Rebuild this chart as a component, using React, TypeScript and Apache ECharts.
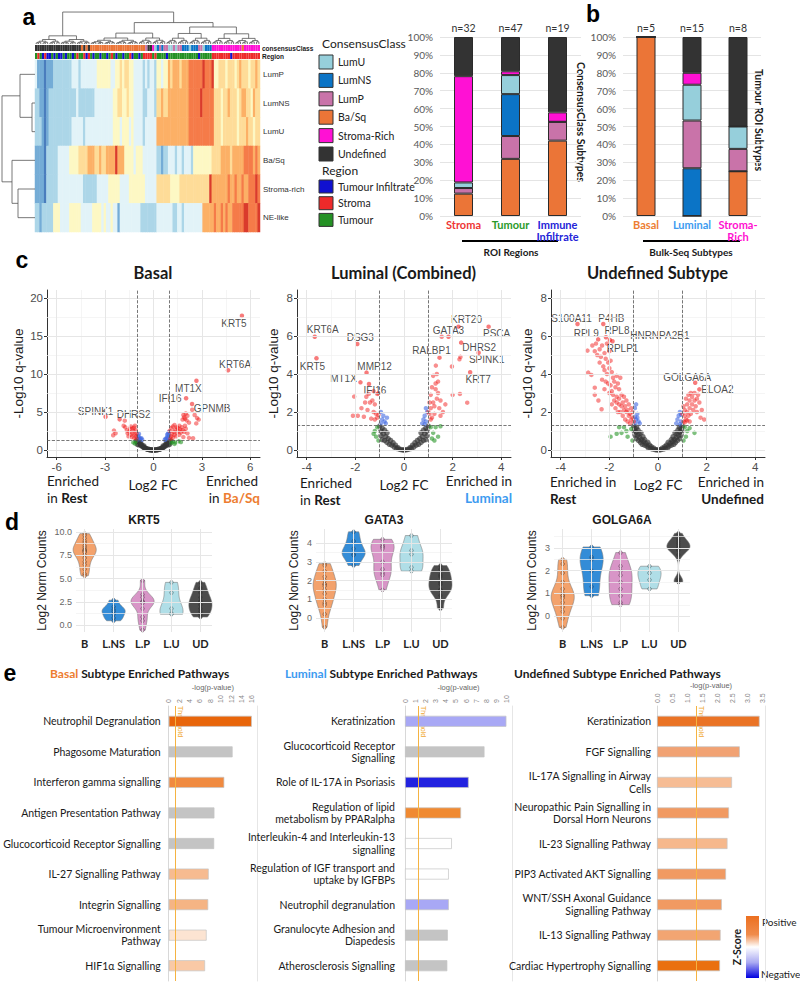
import React, { useEffect, useRef } from "react";
import * as echarts from "echarts";

const FR = "'Liberation Sans', Arial, sans-serif";
const FC = "Lato, 'Open Sans', sans-serif";
const FN = "'Liberation Sans Narrow', 'Arial Narrow', Lato, sans-serif";

/* ====================== DATA ====================== */
// ---- Panel a: heatmap (colour level 0 = low ... 8 = high), 98 ROIs
const heatRowNames = ["LumP", "LumNS", "LumU", "Ba/Sq", "Stroma-rich", "NE-like"];
const heatLumP = [3, 1,1,1, 0, 1,1,1, 2,2,2,2,2,2,2,2, 3,3,3,2,3,3,3,3,3,3,3, 4,4,4,4,4,4, 3,3, 4,4, 5,4,5,5,4,4, 3,3,3,3, 2,3,2,3,3,2, 4,4,3,4,4, 6,5,6,6,6,5,6,6,6, 7,7,7,7,7,7,8,7,7,7,8, 4,4,5, 5,5,4,5,5,5,4,5,6,5,5,5,4,5,5,6,5];
const heatLumNS = [2,2, 1,1, 0, 1, 2,2,2,2,2,2,2,2,2,2, 2,2,3,2,2,2,2,2,2,2,3, 3,3,3,3,3,3,3, 4,4,5,5,4,4,5,4,4, 3,3,3,3,2,2,3,3,3,2, 5,5,6,5,5,6, 6,6,6,6,6,6,6,6, 7,7,7,7,7,8,7,7,7,7,7, 5,5,5,4,5, 5,6,5,5,5,4,5,6,6,5,5,4,6,5,5];
const heatLumU = [2,2,2, 1,0,1, 2,2,2,2,2,2,2,2,2,2, 3,3,3,3,3,2,3,3,3,3,3, 3,3,3,3,3,3,3, 4,4,4,3,4,4,4, 3,4,3,3,3,3,2,3,3,3,3,3, 6,6,6,6,6,6, 6,6,6,6,6,6,6,6, 7,7,7,7,7,7,7,7,7,7,7, 5,5,5,4,5, 5,5,5,5,5,4,5,5,5,6,5,5,4,5,5];
const heatBaSq = [1,1,1,1, 0, 2,2,2,2,2, 3,3,3,3,3, 4,4,4,4, 5,5,5,5, 6,6,6, 5,5,6,5,5, 6,6,6,6, 8, 6,6,6, 4,4,4,4,3,4,4,4, 3,3,3,3,3,3, 2,2,1,2,2, 3,3,3, 2,3,3,2,3,3,3,2, 4,4,4,4,4,4,4,4, 5,5,5,5, 6,6,6,6,5,6,6,6,6,6, 7,7,7,7, 6,7,6];
const heatStromaRich = [1,1,1,1, 0, 2,2,2,2,2, 3,3,3,3,3,3,3,3,3,3,3, 2,2,2,2,2,2, 3,3,3,3,3, 4,4,4,4,4, 3,3,3,3, 4,4,4,4,4,4,4, 3,3,3,3,3, 5,5,5,5,5,5, 4,4,4,4, 5,5,5,5, 5,5,5,5,5,5,5,5,5, 8, 6,6,6,6,6,6, 6,7,6,6,7,6,6,7,6,6, 7,7,7, 8, 7];
const heatNElike = [2,2, 1, 2,2,2,2,2, 4,4,4, 3,3,3,3, 4,4,4,4,4, 3,3,3,3,3, 4,4,4,4, 3,4,3,3,4,3,3, 1, 3,3,3,3,3,3,3,3,3, 2,2,2,2,2,2,2, 3,3,3,3,3,3, 3,2,2,3,3,2,3,3, 3,3,3,3,3,3, 6,6,6,6, 6,7,6,6,7,6,7,6,6,7, 7,7,7,7, 8,8,7, 7,7,7, 8];
const heatValues = [heatLumP, heatLumNS, heatLumU, heatBaSq, heatStromaRich, heatNElike];
// column annotations (U LumU, N LumNS, P LumP, B Ba/Sq, S Stroma-Rich, D Undefined)
const colClass = "DDDDDDDDDDDDDDDDDDDDBDBDBBBBBBBBBBBBBBBBBBBBBBBBPDDSUNPNPPUUPUPPNNNUNNNPPUNNNSSSSSSSSSSSSSBSSSSSSS".split("");
// region (I Tumour Infiltrate, R Stroma, T Tumour)
const colRegion = "TRTIRIITITIITITTITRTTRIRTITTITTITRTITTITTRITTITRRRRTRTTTTITTTTTTTTTTTTTITTTTTRRRRRRRRIRRRRRRRRRRRR".split("");
const classNames = ["LumU", "LumNS", "LumP", "Ba/Sq", "Stroma-Rich", "Undefined"];
const classCodes = ["U", "N", "P", "B", "S", "D"];
const regionNames = ["Tumour Infiltrate", "Stroma", "Tumour"];
const regionCodes = ["I", "R", "T"];
// dendrograms: [height, left, right]
const rowTree: any = [33, [15, 0, [3, 1, 2]], [23, 3, [17, 4, 5]]];
const colTree: any = [0.94, [0.24, [0, 10], [11, 23]], [0.63, [0.32, [24, 44], [45, 56]], [0.5, [0.31, [57, 66], [67, 76]], [0.3, [77, 86], [87, 97]]]]];

// ---- Panel a / b: stacked bars (counts)
const roiRegions = ["Stroma", "Tumour", "Immune\nInfiltrate"];
const roiN = [32, 47, 19];
const roiCounts: any = { B: [4, 15, 8], P: [1, 6, 2], N: [0, 11, 0], U: [1, 5, 0], S: [19, 1, 1], D: [7, 9, 8] };
const bulkSubtypes = ["Basal", "Luminal", "Stroma-\nRich"];
const bulkN = [5, 15, 8];
const bulkCounts: any = { B: [5, 0, 2], N: [0, 4, 0], P: [0, 4, 1], U: [0, 3, 1], S: [0, 1, 0], D: [0, 3, 4] };

// ---- Panel c: volcano plots [log2FC, -log10 q]
const fcCut = 1;
const qCut = 1.3;
const basalGray = [[-1.05,1.2],[-1.0,1.05],[-0.95,0.9],[-1.0,0.75],[-0.9,1.1],[-0.9,0.7],[-0.85,0.85],[-0.8,0.6],[-0.75,0.7],[-0.7,0.5],[-0.65,0.42],[-0.6,0.35],[-0.55,0.28],[-0.5,0.22],[-0.45,0.17],[-0.4,0.13],[-0.35,0.1],[-0.3,0.07],[-0.25,0.05],[-0.2,0.03],[-0.15,0.02],[-0.1,0.01],[-0.05,0],[0,0],[0.05,0],[0.1,0.01],[0.15,0.02],[0.2,0.03],[0.25,0.05],[0.3,0.07],[0.35,0.1],[0.4,0.13],[0.45,0.17],[0.5,0.22],[0.55,0.28],[0.6,0.35],[0.65,0.42],[0.7,0.5],[0.75,0.7],[0.8,0.6],[0.85,0.85],[0.9,0.7],[0.9,1.1],[0.95,0.9],[1.0,0.75],[1.0,1.05],[1.05,1.2],[-0.8,0.95],[0.8,0.95],[-0.6,0.55],[0.6,0.55]];
const basalBlue = [[-0.95,1.4],[-0.9,1.6],[-0.85,1.45],[-0.95,1.85],[-0.8,1.5],[-0.9,2.1],[-0.7,1.35],[-0.75,1.55],[0.7,1.35],[0.75,1.5],[0.8,1.45],[0.85,1.7],[0.9,1.55],[0.95,1.9],[0.9,2.15],[0.95,2.35],[0.85,2.0]];
const basalGreen = [[-1.25,1.0],[-1.15,0.85],[-1.1,1.15],[1.1,0.95],[1.2,1.1],[1.35,1.0],[1.55,1.15],[1.7,1.05],[1.3,0.8]];
const basalRed = [[-1.05,1.5],[-1.1,1.8],[-1.15,2.05],[-1.2,1.6],[-1.3,2.2],[-1.25,2.55],[-1.4,2.0],[-1.35,1.7],[-1.5,2.4],[-1.45,2.8],[-1.1,2.6],[-1.2,2.95],[-1.6,2.2],[-1.55,1.8],[-1.3,2.85],[-1.05,2.2],[-1.65,2.6],[-1.4,3.1],[-1.15,3.2],[-1.75,3.0],[-1.85,3.2],[-1.78,3.86],[-2.35,2.2],[-2.45,2.55],[-2.5,1.95],
  [1.05,1.5],[1.1,1.8],[1.15,2.1],[1.2,1.6],[1.25,2.4],[1.3,2.0],[1.35,2.7],[1.4,1.8],[1.45,2.3],[1.5,2.9],[1.55,2.5],[1.6,2.0],[1.65,2.7],[1.7,2.3],[1.75,3.0],[1.8,2.6],[1.1,2.9],[1.2,3.1],[1.9,2.4],[2.0,2.8],[1.85,1.7],[2.1,2.2],[1.95,3.2],[1.3,3.3],[1.45,3.0],[1.6,3.2],[2.2,1.6],[1.0,2.5],
  [1.8,4.0],[1.85,4.6],[1.9,4.3],[2.0,4.8],[2.05,3.9],[2.1,4.5],[2.2,3.6],[2.55,4.6],[2.7,4.2],[2.65,3.5],[2.8,4.0],[2.45,1.55],[2.4,5.3],[1.95,4.1]];
const basalGenes: any[] = [["KRT5",5.48,17.67],["KRT6A",4.62,10.5],["MT1X",2.66,9.12],["IFI16",2.02,6.8],["GPNMB",2.39,6.05],["SPINK1",-2.97,4.38],["DHRS2",-2.1,4.03]];

const lumGray = [[-1.0,1.25],[-0.95,1.0],[-0.95,0.75],[-0.9,1.15],[-0.9,0.55],[-0.85,0.85],[-0.8,1.05],[-0.8,0.5],[-0.75,0.7],[-0.7,0.9],[-0.7,0.4],[-0.65,0.6],[-0.6,0.3],[-0.55,0.5],[-0.5,0.25],[-0.45,0.38],[-0.4,0.15],[-0.35,0.25],[-0.3,0.08],[-0.25,0.12],[-0.2,0.04],[-0.12,0.02],[-0.05,0],[0,0],[0.05,0],[0.12,0.02],[0.2,0.04],[0.25,0.12],[0.3,0.08],[0.35,0.25],[0.4,0.15],[0.45,0.38],[0.5,0.25],[0.55,0.5],[0.6,0.3],[0.65,0.6],[0.7,0.4],[0.7,0.9],[0.75,0.7],[0.8,0.5],[0.8,1.05],[0.85,0.85],[0.9,0.55],[0.9,1.15],[0.95,0.75],[0.95,1.0],[1.0,1.25]];
const lumBlue = [[-0.95,1.4],[-0.9,1.6],[-0.85,1.8],[-0.8,1.5],[-0.95,2.0],[-0.75,1.4],[-0.7,1.7],[0.75,1.4],[0.8,1.6],[0.85,1.8],[0.9,1.5],[0.95,2.0],[0.9,2.2],[0.85,1.35]];
const lumGreen = [[-1.1,1.2],[-1.2,1.0],[-1.15,0.7],[-1.05,0.5],[-1.25,0.85],[1.1,1.2],[1.3,1.2],[1.5,1.25],[1.2,0.9],[1.15,0.6],[1.4,0.7],[1.25,0.5]];
const lumRed = [[1.55,5.96],[1.97,4.39],[2.28,4.77],[2.32,4.9],[1.31,4.44],[2.0,2.9],[2.3,2.95],[2.6,2.49],[1.05,1.9],[1.1,2.2],[1.15,1.7],[1.2,2.5],[1.25,1.9],[1.3,3.2],[1.35,2.7],[1.1,2.9],[1.4,3.6],[1.3,3.5],[1.45,2.2],[1.5,1.8],[1.2,3.9],[1.05,2.5],[1.6,2.0],[1.25,2.3],[1.4,3.0],[1.15,3.3],[1.35,4.0],[1.1,1.6],[1.0,2.0],[1.5,2.6],[1.7,2.4],
  [-2.05,2.81],[-2.1,1.8],[-1.9,1.8],[-1.65,1.75],[-1.5,2.1],[-1.4,2.5],[-1.3,2.6],[-1.2,2.4],[-1.6,2.5],[-1.75,2.2],[-1.1,1.7],[-1.15,1.9],[-1.05,1.85],[-1.2,1.6],[-1.35,1.65],[-1.25,2.0],[-1.55,2.8],[-1.45,2.95],[-1.1,2.95],[-1.25,3.1],[-1.06,2.98]];
const lumGenes: any[] = [["KRT6A",-3.67,5.96],["KRT5",-3.6,4.83],["DSG3",-1.92,5.58],["MMP12",-1.54,4.07],["MT1X",-1.79,3.56],["IFI16",-1.44,3.47],["KRT20",2.24,6.49],["GATA3",1.83,5.96],["PSCA",3.48,6.49],["DHRS2",2.35,5.65],["RALBP1",1.46,4.86],["SPINK1",3.07,5.12],["KRT7",2.72,4.09]];

const undGray = [[-1.0,1.25],[-0.98,1.0],[-0.95,0.8],[-0.95,1.15],[-0.9,0.6],[-0.9,0.95],[-0.88,1.2],[-0.85,0.75],[-0.82,1.05],[-0.8,0.5],[-0.78,0.85],[-0.75,0.65],[-0.72,0.4],[-0.7,0.9],[-0.68,0.55],[-0.65,0.3],[-0.62,0.7],[-0.6,0.45],[-0.55,0.25],[-0.55,0.55],[-0.5,0.35],[-0.45,0.2],[-0.42,0.4],[-0.4,0.12],[-0.35,0.25],[-0.3,0.08],[-0.28,0.18],[-0.22,0.05],[-0.18,0.1],[-0.12,0.02],[-0.06,0.01],[0,0],[0.06,0.01],[0.12,0.02],[0.18,0.1],[0.22,0.05],[0.28,0.18],[0.3,0.08],[0.35,0.25],[0.4,0.12],[0.42,0.4],[0.45,0.2],[0.5,0.35],[0.55,0.55],[0.55,0.25],[0.6,0.45],[0.62,0.7],[0.65,0.3],[0.68,0.55],[0.7,0.9],[0.72,0.4],[0.75,0.65],[0.78,0.85],[0.8,0.5],[0.82,1.05],[0.85,0.75],[0.88,1.2],[0.9,0.95],[0.9,0.6],[0.95,1.15],[0.95,0.8],[0.98,1.0],[1.0,1.25]];
const undBlue = [[-0.95,1.4],[-0.9,1.6],[-0.85,1.9],[-0.95,2.2],[-0.8,1.5],[-0.9,2.4],[-0.75,1.4],[-0.85,1.7],[-0.95,1.75],[0.75,1.4],[0.8,1.6],[0.85,1.8],[0.9,2.0],[0.95,1.5],[0.9,1.35],[0.95,1.85]];
const undGreen = [[-1.1,1.1],[-1.3,1.0],[-1.5,0.9],[-1.7,0.85],[-1.95,0.7],[-1.25,0.7],[-1.05,0.5],[-1.6,1.2],[-1.4,1.2],[1.1,1.2],[1.2,1.0],[1.3,1.15],[1.5,0.9],[1.15,0.7],[1.05,0.5]];
const undRed = [[-2.7,5.5],[-2.6,5.2],[-2.5,5.0],[-2.55,5.6],[-2.4,5.3],[-2.35,4.9],[-2.3,5.5],[-2.2,5.1],[-2.1,5.6],[-2.15,4.8],[-2.0,5.2],[-2.05,4.6],[-2.25,4.4],[-1.95,4.7],[-2.4,4.6],
  [-2.2,4.2],[-2.1,4.0],[-2.0,4.3],[-1.9,4.1],[-1.85,3.8],[-2.3,3.7],[-2.15,3.6],[-2.05,3.5],[-1.95,3.4],[-1.8,3.6],[-1.75,3.3],[-1.7,3.9],[-1.65,3.5],[-1.9,3.1],[-2.0,3.0],[-1.6,3.2],[-1.55,3.8],[-1.85,2.9],[-1.7,2.8],[-2.2,3.2],
  [-1.6,2.7],[-1.5,2.9],[-1.45,2.5],[-1.4,2.8],[-1.35,2.3],[-1.3,2.6],[-1.25,2.1],[-1.2,2.4],[-1.15,1.9],[-1.1,2.2],[-1.05,1.7],[-1.0,1.5],[-1.05,2.0],[-1.1,1.6],[-1.2,1.8],[-1.3,2.0],[-1.4,2.1],[-1.5,2.3],[-1.6,2.4],[-1.7,2.5],[-1.75,2.2],[-1.55,2.0],[-1.45,1.8],[-1.35,1.6],[-1.25,1.5],[-1.15,1.4],[-1.65,2.0],[-1.8,2.6],[-1.9,2.4],
  [-2.9,5.23],[-2.87,4.07],[-2.74,3.95],[-2.6,3.28],[-2.32,2.14],[-2.45,2.6],[-2.6,2.9],
  [1.05,1.5],[1.1,1.8],[1.1,2.1],[1.15,1.6],[1.2,2.0],[1.2,2.4],[1.25,1.8],[1.3,2.2],[1.3,2.6],[1.35,1.9],[1.4,2.4],[1.4,2.8],[1.45,2.1],[1.5,2.6],[1.5,3.0],[1.55,2.3],[1.6,2.7],[1.6,2.0],[1.65,2.9],[1.7,2.5],[1.75,1.7],[1.8,2.1],[1.05,2.3],[1.15,2.7],[1.25,2.9],[1.35,3.0],[1.0,1.9],[1.1,1.45],[1.2,1.55],[1.3,1.5],[1.9,1.6]];
const undGenes: any[] = [["S100A11",-3.31,6.63],["P4HB",-2.25,6.63],["RPL9",-2.46,5.82],["RPL8",-2.14,5.93],["HNRNPA2B1",-1.98,5.79],["RPLP1",-1.87,5.72],["GOLGA6A",1.53,3.54],["ELOA2",1.7,3.19]];

// ---- Panel d: violins (log2 normalised counts per ROI)
const violinGroups = ["B", "L.NS", "L.P", "L.U", "UD"];
const krt5B = [9.8,9.6,9.3,9.0,8.8,8.5,8.3,8.1,8.0,8.0,7.9,7.8,7.5,7.2,6.8,6.5,6.0,5.5,5.3];
const krt5LNS = [2.7,2.0,1.7,1.5,1.2,0.8,0.5];
const krt5LP = [4.8,3.3,3.0,2.6,2.5,2.5,2.4,1.8,0.9,0.5,-0.5];
const krt5LU = [4.6,3.5,1.8,1.3,1.2];
const krt5UD = [4.6,4.0,3.5,3.0,2.6,2.5,2.2,1.8,1.5,1.2,0.9];
const gata3B = [2.9,2.8,2.5,2.2,2.0,1.8,1.8,1.7,1.5,1.3,1.0,0.8,0.7,0.2,-0.5];
const gata3LNS = [4.6,4.1,3.7,3.4,3.35,2.8];
const gata3LP = [4.2,3.9,3.8,3.8,3.7,3.0,2.6,2.4,2.3,1.5];
const gata3LU = [4.4,3.6,3.4,2.7,2.5];
const gata3UD = [2.8,2.6,2.3,2.2,1.9,1.8,1.5,1.5,1.2,0.5];
const golgaB = [2.5,2.3,1.9,1.5,1.2,1.0,0.9,0.9,0.8,0.6,0.4,0.2,-0.1,-0.5];
const golgaLNS = [3.05,2.6,2.5,2.0,1.3,0.9];
const golgaLP = [2.8,2.2,2.0,1.8,1.5,1.2,0.9,0.6,0.5];
const golgaLU = [2.2,1.9,1.6,1.2];
const golgaUD = [3.65,3.4,3.3,3.2,3.1,3.0,3.0,2.9,2.7,1.6,1.5];

// ---- Panel e: pathway enrichment (-log p)
const basalPathways = ["Neutrophil Degranulation", "Phagosome Maturation", "Interferon gamma signalling", "Antigen Presentation Pathway", "Glucocorticoid Receptor Signalling", "IL-27 Signalling Pathway", "Integrin Signalling", "Tumour Microenvironment\nPathway", "HIF1α Signalling"];
const basalLogP = [16.0, 12.3, 10.7, 8.8, 8.75, 7.7, 7.6, 7.3, 7.0];
const lumPathways = ["Keratinization", "Glucocorticoid Receptor\nSignalling", "Role of IL-17A in Psoriasis", "Regulation of lipid\nmetabolism by PPARalpha", "Interleukin-4 and Interleukin-13\nsignalling", "Regulation of IGF transport and\nuptake by IGFBPs", "Neutrophil degranulation", "Granulocyte Adhesion and\nDiapedesis", "Atherosclerosis Signalling"];
const lumLogP = [9.95, 7.8, 6.25, 5.5, 4.6, 4.3, 4.3, 4.2, 4.15];
const undPathways = ["Keratinization", "FGF Signalling", "IL-17A Signalling in Airway\nCells", "Neuropathic Pain Signalling in\nDorsal Horn Neurons", "IL-23 Signalling Pathway", "PIP3 Activated AKT Signalling", "WNT/SSH Axonal Guidance\nSignalling Pathway", "IL-13 Signalling Pathway", "Cardiac Hypertrophy Signalling"];
const undLogP = [3.42, 2.76, 2.5, 2.4, 2.35, 2.3, 2.16, 2.12, 2.1];
const pThreshold = 1.3;

/* ====================== STYLES ====================== */
const heatPalette = ["#4a7dbd", "#74acd6", "#acd6e8", "#e2f3f8", "#fdf8c4", "#fedc98", "#fcb066", "#f57b49", "#da3b2c"];
const classColors = ["#96cfdb", "#0b74c6", "#c973a9", "#eb7537", "#ff11d4", "#333333"];
const regionColors = ["#1010d0", "#ee2a2a", "#249124"];
const roiLabelColors = ["#ee3535", "#2a9a2a", "#2424d8"];
const bulkLabelColors = ["#ed7d31", "#3d9bf0", "#ff10d0"];
const violinColors = ["#f29a5f", "#2282d4", "#d58cc2", "#a9dbe5", "#3d3d3d"];
const basalBarColors = ["#e8650a", "#c4c4c4", "#f08a40", "#c4c4c4", "#c4c4c4", "#f7bb90", "#f5b484", "#fce4d2", "#f9c9a6"];
const lumBarColors = ["#a8a8f5", "#c4c4c4", "#2222e0", "#f08a32", "#ffffff", "#ffffff", "#a8a8f5", "#c4c4c4", "#c4c4c4"];
const undBarColors = ["#ea7325", "#f1a273", "#f6bc94", "#f19a62", "#f6b88c", "#f19a62", "#f19a62", "#f2a572", "#ea7010"];
const geneOffsets: any = {
  "b:KRT5": [-8, 8], "b:KRT6A": [7, -6], "b:MT1X": [-8, 8], "b:IFI16": [-16, 0], "b:GPNMB": [20, 4], "b:SPINK1": [-10, -5], "b:DHRS2": [14, -5],
  "l:KRT6A": [8, -7], "l:KRT5": [-4, 8], "l:DSG3": [3, -6], "l:MMP12": [8, -6], "l:MT1X": [-17, -4], "l:IFI16": [6, 6], "l:KRT20": [8, -7], "l:GATA3": [0, -6], "l:PSCA": [8, 7], "l:DHRS2": [18, 5], "l:RALBP1": [-8, -7], "l:SPINK1": [8, 7], "l:KRT7": [8, 7],
  "u:S100A11": [-6, -6], "u:P4HB": [8, -6], "u:RPL9": [-12, -6], "u:RPL8": [11, -7], "u:HNRNPA2B1": [50, -4], "u:RPLP1": [10, 7], "u:GOLGA6A": [-8, -5], "u:ELOA2": [18, 0],
};

/* ====================== HELPERS ====================== */
function colDendroLinks(tree: any) {
  const links: number[][] = [];
  const range = (a: number, b: number, h: number): number[] => {
    if (a === b) return [a + 0.5, 0];
    const m = Math.floor((a + b) / 2);
    const L = range(a, m, h * 0.62), R = range(m + 1, b, h * 0.62);
    links.push([L[0], L[1], R[0], R[1], h]);
    return [(L[0] + R[0]) / 2, h];
  };
  const walk = (node: any, parentH: number): number[] => {
    if (node.length === 2) return range(node[0], node[1], parentH * 0.55);
    const [h, l, r] = node;
    const L = walk(l, h), R = walk(r, h);
    links.push([L[0], L[1], R[0], R[1], h]);
    return [(L[0] + R[0]) / 2, h];
  };
  walk(tree, 1);
  return links;
}
function rowDendroLinks(tree: any) {
  const links: number[][] = [];
  const walk = (n: any): number[] => {
    if (typeof n === "number") return [n + 0.5, 0];
    const [h, l, r] = n;
    const L = walk(l), R = walk(r);
    links.push([L[0], L[1], R[0], R[1], h]);
    return [(L[0] + R[0]) / 2, h];
  };
  walk(tree);
  return links;
}
function violinPolygon(vals: number[], cx: number, halfMax: number) {
  const s = [...vals].sort((a, b) => a - b);
  const n = s.length;
  const mean = s.reduce((a, b) => a + b, 0) / n;
  const sd = Math.sqrt(s.reduce((a, b) => a + (b - mean) ** 2, 0) / Math.max(1, n - 1));
  const q = (p: number) => { const i = (n - 1) * p; const lo = Math.floor(i); const hi = Math.ceil(i); return s[lo] + (s[hi] - s[lo]) * (i - lo); };
  const iqr = q(0.75) - q(0.25);
  let lo = Math.min(sd, iqr / 1.34);
  if (!(lo > 0)) lo = sd || 0.5;
  const bw = 0.9 * lo * Math.pow(n, -0.2);
  const steps = 50;
  const ys: number[] = [], ds: number[] = [];
  for (let i = 0; i <= steps; i++) {
    const y = s[0] + ((s[n - 1] - s[0]) * i) / steps;
    let d = 0;
    s.forEach((v) => { d += Math.exp(-0.5 * ((y - v) / bw) ** 2); });
    ys.push(y); ds.push(d);
  }
  const mx = Math.max(...ds);
  const right = ys.map((y, i) => [cx + (ds[i] / mx) * halfMax, y]);
  const left = ys.map((y, i) => [cx - (ds[i] / mx) * halfMax, y]).reverse();
  return right.concat(left);
}

function buildOption() {
  const grid: any[] = [], xAxis: any[] = [], yAxis: any[] = [], series: any[] = [], graphic: any[] = [];
  const addGrid = (g: any, xa: any, ya: any) => {
    grid.push(g);
    const gi = grid.length - 1;
    xAxis.push({ gridIndex: gi, ...xa });
    yAxis.push({ gridIndex: gi, ...ya });
    return { gi, xi: xAxis.length - 1, yi: yAxis.length - 1 };
  };
  const text = (x: number, y: number, t: string, st: any = {}, extra: any = {}) => {
    graphic.push({ type: "text", x, y, silent: true, ...extra, style: { text: t, fill: "#1a1a1a", fontFamily: FC, fontSize: 12, align: "left", verticalAlign: "middle", ...st } });
  };
  const nCols = colClass.length;
  const colCats = colClass.map((_, i) => String(i));

  /* ---------- Panel a heatmap ---------- */
  const hm = addGrid({ left: 35, top: 60, width: 225, height: 172 },
    { type: "category", data: colCats, show: false },
    { type: "category", data: heatRowNames, inverse: true, position: "right", axisLine: { show: false }, axisTick: { show: false },
      axisLabel: { fontSize: 8, color: "#333", margin: 3, fontFamily: FR } });
  const heatData: number[][] = [];
  heatValues.forEach((row, r) => row.forEach((v, c) => heatData.push([c, r, v])));
  const heatSeriesIndex = series.length;
  series.push({ type: "heatmap", xAxisIndex: hm.xi, yAxisIndex: hm.yi, data: heatData, silent: true, itemStyle: { borderWidth: 0 } });

  const annot = (top: number, codes: string[], codeList: string[], colors: string[]) => {
    const ids = addGrid({ left: 35, top, width: 225, height: 6 },
      { type: "category", data: colCats, show: false },
      { type: "value", min: 0, max: 1, show: false });
    series.push({ type: "bar", xAxisIndex: ids.xi, yAxisIndex: ids.yi, barWidth: "100%", barCategoryGap: "0%", silent: true,
      data: codes.map((c) => ({ value: 1, itemStyle: { color: colors[codeList.indexOf(c)] } })) });
  };
  annot(45, colClass, classCodes, classColors);
  annot(53, colRegion, regionCodes, regionColors);
  text(262, 48.5, "consensusClass", { fontSize: 6.5, fontWeight: "bold", fontFamily: FR });
  text(262, 56.5, "Region", { fontSize: 6.5, fontWeight: "bold", fontFamily: FR });

  const cd = addGrid({ left: 35, top: 10, width: 225, height: 34 },
    { type: "value", min: 0, max: nCols, show: false }, { type: "value", min: 0, max: 1, show: false });
  series.push({ type: "custom", xAxisIndex: cd.xi, yAxisIndex: cd.yi, silent: true, data: colDendroLinks(colTree),
    renderItem: (_p: any, api: any) => {
      const xa = api.value(0), ya = api.value(1), xb = api.value(2), yb = api.value(3), h = api.value(4);
      return { type: "polyline", shape: { points: [api.coord([xa, ya]), api.coord([xa, h]), api.coord([xb, h]), api.coord([xb, yb])] },
        style: { stroke: "#555", lineWidth: 0.8, fill: null } };
    } });
  const rd = addGrid({ left: 0, top: 60, width: 35, height: 172 },
    { type: "value", min: 0, max: 35, inverse: true, show: false }, { type: "value", min: 0, max: 6, inverse: true, show: false });
  series.push({ type: "custom", xAxisIndex: rd.xi, yAxisIndex: rd.yi, silent: true, data: rowDendroLinks(rowTree),
    renderItem: (_p: any, api: any) => {
      const ya = api.value(0), da = api.value(1), yb = api.value(2), db = api.value(3), h = api.value(4);
      return { type: "polyline", shape: { points: [api.coord([da, ya]), api.coord([h, ya]), api.coord([h, yb]), api.coord([db, yb])] },
        style: { stroke: "#555", lineWidth: 0.8, fill: null } };
    } });

  // legend
  text(322, 43, "ConsensusClass", { fontSize: 12, fill: "#222" });
  classNames.forEach((nm, i) => {
    const y = 55 + i * 18.4;
    graphic.push({ type: "rect", silent: true, shape: { x: 319, y, width: 14, height: 14 }, style: { fill: classColors[i], stroke: "#333", lineWidth: 1 } });
    text(338, y + 7, nm, { fontSize: 10.5, fill: "#222" });
  });
  text(322, 170, "Region", { fontSize: 12, fill: "#222" });
  regionNames.forEach((nm, i) => {
    const y = 180 + i * 16.7;
    graphic.push({ type: "rect", silent: true, shape: { x: 319, y, width: 14, height: 13 }, style: { fill: regionColors[i], stroke: "#333", lineWidth: 1 } });
    text(338, y + 6.5, nm, { fontSize: 10.5, fill: "#222" });
  });

  /* ---------- stacked bars ---------- */
  const stacked = (left: number, width: number, cats: string[], catColors: string[], ns: number[], counts: any, order: string[], stackId: string) => {
    const ids = addGrid({ left, top: 37, width, height: 179 },
      { type: "category", data: cats.map((c, i) => ({ value: c, textStyle: { color: catColors[i] } })), axisLine: { show: false }, axisTick: { show: false },
        axisLabel: { fontSize: 11, fontWeight: "bold", fontFamily: FC, margin: 3, lineHeight: 11.5, interval: 0 } },
      { type: "value", min: 0, max: 100, interval: 10, axisLine: { show: false }, axisTick: { show: false },
        axisLabel: { formatter: "{value}%", fontSize: 10, color: "#595959", margin: 7, fontFamily: FC }, splitLine: { lineStyle: { color: "#e4e4e4", width: 1 } } });
    xAxis.push({ gridIndex: ids.gi, type: "category", position: "top", data: ns.map((n) => "n=" + n), axisLine: { show: false }, axisTick: { show: false },
      axisLabel: { fontSize: 10.5, color: "#333", margin: 4, fontFamily: FC } });
    order.forEach((code) => {
      const ci = classCodes.indexOf(code);
      series.push({ type: "bar", stack: stackId, xAxisIndex: ids.xi, yAxisIndex: ids.yi, barWidth: 19, silent: true,
        data: counts[code].map((c: number, i: number) => (c / ns[i]) * 100),
        itemStyle: { color: classColors[ci], borderColor: "#2b2b2b", borderWidth: 1 } });
    });
  };
  stacked(440, 141, roiRegions, roiLabelColors, roiN, roiCounts, ["B", "P", "N", "U", "S", "D"], "roi");
  stacked(623, 138, bulkSubtypes, bulkLabelColors, bulkN, bulkCounts, ["B", "N", "P", "U", "S", "D"], "bulk");
  text(581, 122, "ConsensusClass Subtypes", { fontSize: 10.5, fontWeight: "bold", align: "center" }, { rotation: -Math.PI / 2 });
  text(759, 120, "Tumour ROI Subtypes", { fontSize: 10.5, fontWeight: "bold", align: "center" }, { rotation: -Math.PI / 2 });
  graphic.push({ type: "line", silent: true, shape: { x1: 462, y1: 241, x2: 558, y2: 241 }, style: { stroke: "#000", lineWidth: 2 } });
  graphic.push({ type: "line", silent: true, shape: { x1: 643, y1: 241, x2: 740, y2: 241 }, style: { stroke: "#000", lineWidth: 2 } });
  text(511, 252, "ROI Regions", { fontSize: 10, fontWeight: "bold", align: "center" });
  text(691, 252, "Bulk-Seq Subtypes", { fontSize: 10, fontWeight: "bold", align: "center" });

  /* ---------- volcano ---------- */
  const gridLineSeries = (ids: any, xs: number[], xm: number[], ys: number[], ym: number[], dashed: any[]) => {
    const major = { color: "#e6e6e6", width: 1, type: "solid" };
    const minor = { color: "#f1f1f1", width: 0.7, type: "solid" };
    series.push({ type: "line", xAxisIndex: ids.xi, yAxisIndex: ids.yi, data: [], silent: true, z: 0,
      markLine: { silent: true, symbol: "none", animation: false, label: { show: false },
        data: [
          ...xm.map((v) => ({ xAxis: v, lineStyle: minor })), ...ym.map((v) => ({ yAxis: v, lineStyle: minor })),
          ...xs.map((v) => ({ xAxis: v, lineStyle: major })), ...ys.map((v) => ({ yAxis: v, lineStyle: major })),
          ...dashed,
        ] } });
  };
  const volcano = (cfg: any) => {
    const axCommon = { splitLine: { show: false }, axisLine: { show: true, onZero: false, lineStyle: { color: "#333", width: 1 } } };
    const ids = addGrid({ left: cfg.left, top: 290, width: cfg.width, height: 167 },
      { type: "value", min: cfg.xMin, max: cfg.xMax, ...axCommon,
        axisTick: { show: true, customValues: cfg.xMajor, length: 3, lineStyle: { color: "#333" } },
        axisLabel: { customValues: cfg.xMajor, fontSize: 11.5, color: "#4d4d4d", margin: 4, fontFamily: FR } },
      { type: "value", min: cfg.yMin, max: cfg.yMax, ...axCommon,
        axisTick: { show: true, customValues: cfg.yMajor, length: 3, lineStyle: { color: "#333" } },
        axisLabel: { customValues: cfg.yMajor, fontSize: 11.5, color: "#4d4d4d", margin: 4, fontFamily: FR },
        name: "-Log10 q-value", nameLocation: "middle", nameGap: cfg.nameGap, nameRotate: 90, nameTextStyle: { fontSize: 13.5, color: "#1a1a1a", fontFamily: FR } });
    const dash = { color: "#555", width: 0.8, type: "dashed" };
    gridLineSeries(ids, cfg.xMajor, cfg.xMinor, cfg.yMajor, cfg.yMinor,
      [{ xAxis: -fcCut, lineStyle: dash }, { xAxis: fcCut, lineStyle: dash }, { yAxis: qCut, lineStyle: dash }]);
    const pts = (data: number[][], color: string, size: number) =>
      series.push({ type: "scatter", xAxisIndex: ids.xi, yAxisIndex: ids.yi, data, symbolSize: size, silent: true, itemStyle: { color } });
    pts(cfg.gray, "rgba(55,55,55,0.85)", 5.5);
    pts(cfg.blue, "rgba(65,105,225,0.75)", 4.5);
    pts(cfg.green, "rgba(40,150,40,0.75)", 4.5);
    pts(cfg.red, "rgba(240,20,20,0.6)", 4.5);
    series.push({ type: "scatter", xAxisIndex: ids.xi, yAxisIndex: ids.yi, symbolSize: 4.5, silent: true, itemStyle: { color: "rgba(240,20,20,0.7)" },
      label: { show: true, position: "inside", formatter: "{b}", fontSize: 10, color: "#1a1a1a", fontFamily: FR },
      data: cfg.genes.map((g: any) => ({ name: g[0], value: [g[1], g[2]], label: { offset: geneOffsets[cfg.key + ":" + g[0]] || [0, -8] } })) });
    text(cfg.left + cfg.width / 2 - 0.5, 273, cfg.title, { fontSize: 16.5, fontWeight: "bold", align: "center" });
    return ids;
  };
  volcano({ key: "b", left: 47, width: 213, xMin: -6.6, xMax: 6.6, yMin: -0.92, yMax: 21.05, xMajor: [-6, -3, 0, 3, 6], xMinor: [-4.5, -1.5, 1.5, 4.5],
    yMajor: [0, 5, 10, 15, 20], yMinor: [2.5, 7.5, 12.5, 17.5], gray: basalGray, blue: basalBlue, green: basalGreen, red: basalRed, genes: basalGenes, title: "Basal", nameGap: 22 });
  volcano({ key: "l", left: 297, width: 214, xMin: -4.4, xMax: 4.4, yMin: -0.37, yMax: 8.42, xMajor: [-4, -2, 0, 2, 4], xMinor: [-3, -1, 1, 3],
    yMajor: [0, 2, 4, 6, 8], yMinor: [1, 3, 5, 7], gray: lumGray, blue: lumBlue, green: lumGreen, red: lumRed, genes: lumGenes, title: "Luminal (Combined)", nameGap: 17 });
  volcano({ key: "u", left: 551, width: 214, xMin: -4.4, xMax: 4.4, yMin: -0.37, yMax: 8.42, xMajor: [-4, -2, 0, 2, 4], xMinor: [-3, -1, 1, 3],
    yMajor: [0, 2, 4, 6, 8], yMinor: [1, 3, 5, 7], gray: undGray, blue: undBlue, green: undGreen, red: undRed, genes: undGenes, title: "Undefined Subtype", nameGap: 17 });
  const bt = { fontSize: 13.5, fontFamily: FC, fill: "#1a1a1a" };
  const rb = (c: string) => ({ fontSize: 13.5, fontFamily: FC, fontWeight: "bold", fill: c });
  text(47, 481, "Enriched", bt); text(47, 498, "in {b|Rest}", { ...bt, rich: { b: rb("#1a1a1a") } });
  text(153, 485, "Log2 FC", { ...bt, align: "center" });
  text(258, 481, "Enriched", { ...bt, align: "right" }); text(260, 498, "in {o|Ba/Sq}", { ...bt, align: "right", rich: { o: rb("#ed7d31") } });
  text(300, 483, "Enriched", bt); text(300, 500, "in {b|Rest}", { ...bt, rich: { b: rb("#1a1a1a") } });
  text(404, 485, "Log2 FC", { ...bt, align: "center" });
  text(512, 481, "Enriched in", { ...bt, align: "right" }); text(512, 498, "{l|Luminal}", { ...bt, align: "right", rich: { l: rb("#3d9bf0") } });
  text(550, 482, "Enriched in", bt); text(550, 499, "{b|Rest}", { ...bt, rich: { b: rb("#1a1a1a") } });
  text(658, 485, "Log2 FC", { ...bt, align: "center" });
  text(764, 482, "Enriched in", { ...bt, align: "right" }); text(764, 499, "{b|Undefined}", { ...bt, align: "right", rich: { b: rb("#1a1a1a") } });

  /* ---------- violins ---------- */
  const violin = (cfg: any) => {
    const ids = addGrid({ left: cfg.left, top: 529, width: 136, height: 103 },
      { type: "value", min: 0.7, max: 5.4, splitLine: { show: false }, axisLine: { show: false }, axisTick: { show: false },
        axisLabel: { customValues: [1, 2, 3, 4, 5], formatter: (v: number) => violinGroups[Math.round(v) - 1], fontSize: 11, fontWeight: "bold", color: "#222", margin: 6, fontFamily: FC } },
      { type: "value", min: cfg.yMin, max: cfg.yMax, splitLine: { show: false }, axisLine: { show: false }, axisTick: { show: false },
        axisLabel: { customValues: cfg.yMajor, formatter: cfg.fmt, fontSize: 9, color: "#666", margin: 4, fontFamily: FR },
        name: "Log2 Norm Counts", nameLocation: "middle", nameGap: cfg.nameGap, nameRotate: 90, nameTextStyle: { fontSize: 12, color: "#222", fontFamily: FR } });
    gridLineSeries(ids, [1, 2, 3, 4, 5], [], cfg.yMajor, cfg.yMinor, []);
    const shapes = cfg.groups.map((vals: number[], i: number) => violinPolygon(vals, i + 1, 0.4));
    series.push({ type: "custom", xAxisIndex: ids.xi, yAxisIndex: ids.yi, silent: true, z: 2, data: cfg.groups.map((_: any, i: number) => [i + 1, 0]),
      renderItem: (p: any, api: any) => ({ type: "polygon", shape: { points: shapes[p.dataIndex].map((pt: number[]) => api.coord(pt)) },
        style: { fill: violinColors[p.dataIndex], stroke: "#777", lineWidth: 0.6, opacity: 0.92 } }) });
    const pdata: number[][] = [];
    cfg.groups.forEach((vals: number[], i: number) => vals.forEach((v) => pdata.push([i + 1, v])));
    series.push({ type: "scatter", xAxisIndex: ids.xi, yAxisIndex: ids.yi, silent: true, z: 3, data: pdata, symbolSize: 3.6,
      itemStyle: { color: (p: any) => violinColors[p.data[0] - 1], borderColor: "rgba(50,50,50,0.85)", borderWidth: 0.6 } });
    text(cfg.left + 68, 520, cfg.title, { fontSize: 12, fontWeight: "bold", align: "center", fontFamily: FR });
  };
  violin({ left: 76, yMin: -0.7, yMax: 10.3, yMajor: [0, 2.5, 5, 7.5, 10], yMinor: [1.25, 3.75, 6.25, 8.75], fmt: (v: number) => v.toFixed(1),
    groups: [krt5B, krt5LNS, krt5LP, krt5LU, krt5UD], title: "KRT5", nameGap: 28 });
  violin({ left: 316, yMin: -0.75, yMax: 4.75, yMajor: [0, 1, 2, 3, 4], yMinor: [0.5, 1.5, 2.5, 3.5], fmt: (v: number) => String(v),
    groups: [gata3B, gata3LNS, gata3LP, gata3LU, gata3UD], title: "GATA3", nameGap: 16 });
  violin({ left: 554, yMin: -0.7, yMax: 3.84, yMajor: [0, 1, 2, 3], yMinor: [0.5, 1.5, 2.5, 3.5], fmt: (v: number) => String(v),
    groups: [golgaB, golgaLNS, golgaLP, golgaLU, golgaUD], title: "GOLGA6A", nameGap: 16 });

  /* ---------- pathways ---------- */
  const thresholds: any[] = [];
  const pathways = (cfg: any) => {
    const ids = addGrid({ left: cfg.left, top: 706, width: cfg.width, height: 275 },
      { type: "value", position: "top", min: 0, max: cfg.max, splitLine: { show: false }, axisLine: { show: false }, axisTick: { show: false },
        axisLabel: { customValues: cfg.ticks, formatter: cfg.fmt, rotate: -90, fontSize: 7, color: "#888", margin: 3, fontFamily: FR },
        name: "-log(p-value)", nameLocation: "middle", nameGap: 15, nameTextStyle: { fontSize: 7.5, color: "#666", fontFamily: FR } },
      { type: "category", data: cfg.names, inverse: true, axisLine: { show: true, lineStyle: { color: "#d8d8d8" } }, axisTick: { show: false },
        axisLabel: { fontSize: 10.5, color: "#1a1a1a", margin: cfg.margin, fontFamily: FN, lineHeight: 12.5 } });
    yAxis.push({ gridIndex: ids.gi, type: "category", data: cfg.names, inverse: true, position: "right", axisLine: { show: true, lineStyle: { color: "#e6e6e6" } }, axisTick: { show: false }, axisLabel: { show: false } });
    series.push({ type: "bar", xAxisIndex: ids.xi, yAxisIndex: ids.yi, barWidth: 11, silent: true,
      data: cfg.values.map((v: number, i: number) => ({ value: v, itemStyle: { color: cfg.colors[i] } })),
      itemStyle: { borderColor: "#c4c4c4", borderWidth: 0.7 },
      markLine: { silent: true, symbol: "none", label: { show: false }, lineStyle: { color: "#f5b342", width: 1, type: "solid" }, data: [{ xAxis: pThreshold }] } });
    thresholds.push(ids.gi);
  };
  pathways({ left: 153, width: 104, max: 17, ticks: [0, 2, 4, 6, 8, 10, 12, 14, 16], fmt: (v: number) => String(v), names: basalPathways, values: basalLogP, colors: basalBarColors, margin: 8 });
  pathways({ left: 405, width: 107, max: 10.5, ticks: [0, 1, 2, 3, 4, 5, 6, 7, 8, 9, 10], fmt: (v: number) => String(v), names: lumPathways, values: lumLogP, colors: lumBarColors, margin: 10 });
  pathways({ left: 657, width: 108, max: 3.6, ticks: [0, 0.5, 1, 1.5, 2, 2.5, 3, 3.5], fmt: (v: number) => v.toFixed(1), names: undPathways, values: undLogP, colors: undBarColors, margin: 6 });
  const hdr = { fontSize: 12, fontWeight: "bold", fontFamily: FC, fill: "#1a1a1a" };
  text(50, 673, "{o|Basal} Subtype Enriched Pathways", { ...hdr, rich: { o: { ...hdr, fill: "#ed7d31" } } });
  text(285, 673, "{l|Luminal} Subtype Enriched Pathways", { ...hdr, rich: { l: { ...hdr, fill: "#3d9bf0" } } });
  text(514, 673, "Undefined Subtype Enriched Pathways", hdr);
  // z-score legend
  graphic.push({ type: "rect", silent: true, shape: { x: 746, y: 916, width: 13, height: 62 },
    style: { fill: new echarts.graphic.LinearGradient(0, 0, 0, 1, [
      { offset: 0, color: "#ec7020" }, { offset: 0.3, color: "#f08c4c" }, { offset: 0.5, color: "#ffffff" }, { offset: 0.75, color: "#aaaaf2" }, { offset: 1, color: "#0000e0" }]) } });
  text(762, 922, "Positive", { fontSize: 10, fill: "#1a1a1a" });
  text(761, 974, "Negative", { fontSize: 10, fill: "#1a1a1a" });
  text(737, 947, "Z-Score", { fontSize: 10.5, fontWeight: "bold", align: "center" }, { rotation: Math.PI / 2 });

  // panel letters
  const letter = { fontSize: 23, fontWeight: "bold", fontFamily: FR, fill: "#000", align: "center" };
  text(29, 17, "a", letter); text(593, 14, "b", letter); text(22, 260, "c", letter); text(12, 522, "d", letter); text(10, 673, "e", letter);

  const option: any = {
    animation: false,
    backgroundColor: "#ffffff",
    textStyle: { fontFamily: FR },
    grid, xAxis, yAxis, series, graphic,
    visualMap: [{ show: false, type: "continuous", seriesIndex: heatSeriesIndex, min: 0, max: 8, inRange: { color: heatPalette } }],
  };
  return { option, thresholds, graphic };
}

export default function App() {
  const ref = useRef<HTMLDivElement | null>(null);
  useEffect(() => {
    if (!ref.current) return;
    const chart = echarts.init(ref.current, null, { renderer: "svg" });
    const built = buildOption();
    chart.setOption(built.option);
    const extra = built.thresholds.map((gi: number) => {
      const p = chart.convertToPixel({ gridIndex: gi } as any, [pThreshold, 0]) as any;
      return { type: "text", silent: true, x: p[0] + 1.5, y: 706, rotation: -Math.PI / 2,
        style: { text: "Threshold", fontSize: 7, fill: "#f0a830", fontFamily: FR, align: "left", verticalAlign: "bottom" } };
    });
    chart.setOption({ graphic: [...built.graphic, ...extra] });
    return () => chart.dispose();
  }, []);
  return <div ref={ref} style={{ position: "absolute", left: 0, top: 0, width: 800, height: 984, background: "#ffffff" }} />;
}
